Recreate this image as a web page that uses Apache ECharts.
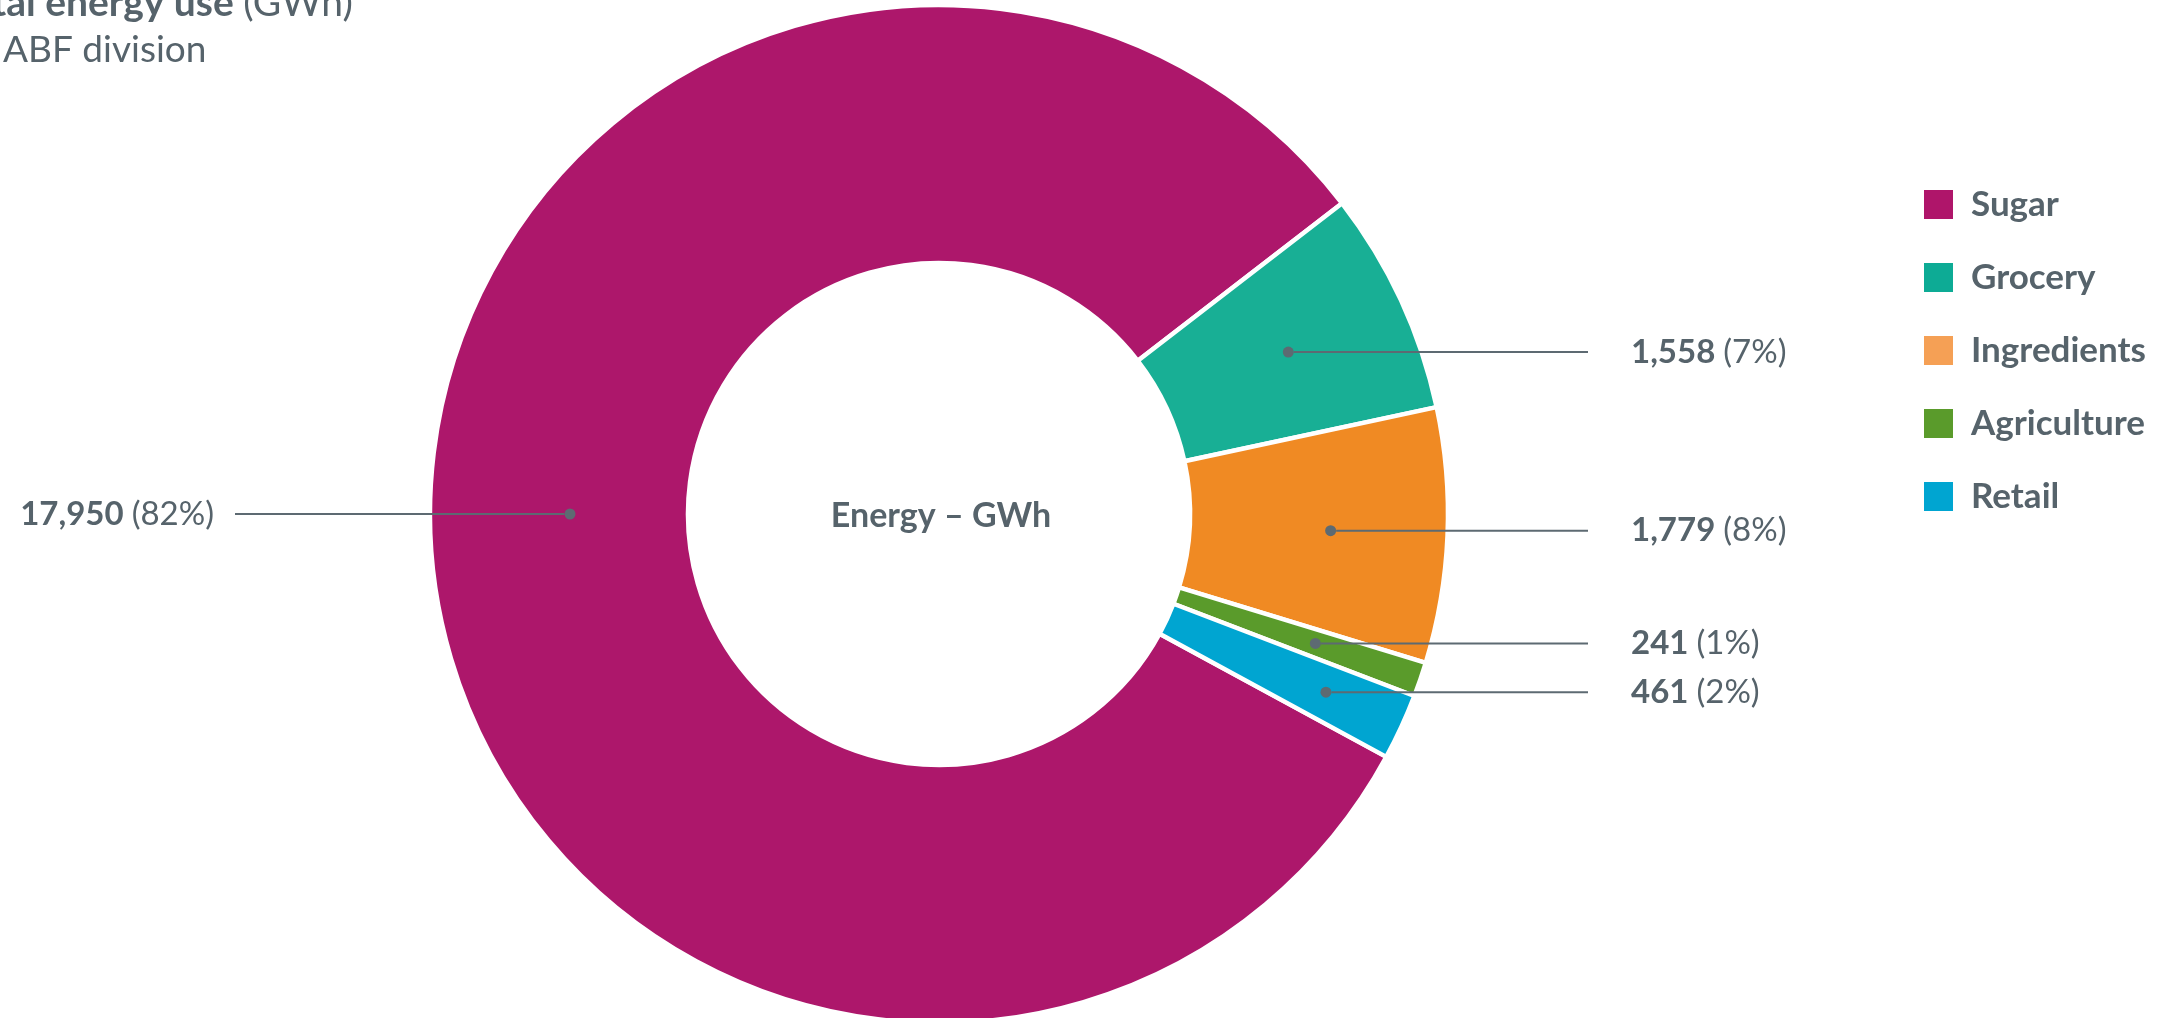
<!DOCTYPE html>
<html>
<head>
<meta charset="utf-8">
<script src="https://cdn.jsdelivr.net/npm/echarts@6/dist/echarts.min.js"></script>
<style>
  html, body { margin: 0; padding: 0; background: #ffffff; }
  #chart { width: 2164px; height: 1018px; }
</style>
</head>
<body>
<div id="chart"></div>
<script>
// Energy use by division (GWh)
const divisions = ['Sugar', 'Grocery', 'Ingredients', 'Agriculture', 'Retail'];
const energyGWh = [17950, 1558, 1779, 241, 461];

// Styling
const sliceColors = ['#AD176B', '#18AF95', '#F08A23', '#5A9B2B', '#00A5D1'];
const legendColors = ['#AF156A', '#0DAB95', '#F5A055', '#5A9B2B', '#00A5D1'];
const TEXT = '#56636B';
const LEADER = '#5D6A72';
const FONT = 'Lato';

// Ring geometry
const CX = 939, CY = 514, R_IN = 251, R_OUT = 509;
const START_ANGLE = -28.5;
// depth of each leader-line dot inside the ring (px from centre)
const leaderRadius = [369, 385, 392, 398, 426];
const RIGHT_LINE_END = 1588, RIGHT_TEXT_X = 1631;
const LEFT_LINE_END = 235, LEFT_TEXT_X = 214;

const total = energyGWh.reduce((a, b) => a + b, 0);
const cumulative = [];
(function () { let acc = 0; energyGWh.forEach(v => { cumulative.push(acc); acc += v; }); })();

function angleOf(v) { return START_ANGLE - 360 * v / total; }

// Position along the ring (in GWh) where a slice's leader line starts:
// the middle of the slice, or 9 o'clock for a slice that wraps round the left side.
function anchorValue(i) {
  const a = cumulative[i], b = a + energyGWh[i];
  const nine = (((START_ANGLE - 180) % 360) + 360) % 360 / 360 * total;
  if (energyGWh[i] / total > 0.5 && nine >= a && nine <= b) return nine;
  return (a + b) / 2;
}
function anchorPixel(i) {
  const t = angleOf(anchorValue(i)) * Math.PI / 180;
  return [CX + leaderRadius[i] * Math.cos(t), CY - leaderRadius[i] * Math.sin(t)];
}
function isLeft(i) { return anchorPixel(i)[0] < CX; }

const chart = echarts.init(document.getElementById('chart'), null, { renderer: 'canvas' });

const labelFont = { fontFamily: FONT, fontSize: 33, color: TEXT };

const option = {
  animation: false,
  backgroundColor: '#ffffff',
  title: {
    text: '{b|Total energy use }{n|(GWh)}',
    subtext: 'By ABF division',
    left: -49,
    top: -20,
    itemGap: 8,
    padding: 0,
    textStyle: {
      rich: {
        b: { fontFamily: FONT, fontWeight: 'bold', fontSize: 39, color: TEXT, lineHeight: 46 },
        n: { fontFamily: FONT, fontWeight: 'normal', fontSize: 39, color: TEXT, lineHeight: 46 }
      }
    },
    subtextStyle: { fontFamily: FONT, fontSize: 37, color: TEXT, lineHeight: 46 }
  },
  legend: {
    orient: 'vertical',
    left: 1917,
    top: 182,
    itemWidth: 31,
    itemHeight: 31,
    itemGap: 38,
    selectedMode: false,
    data: divisions.map((name, i) => ({ name, icon: 'rect', itemStyle: { color: legendColors[i] } })),
    textStyle: {
      fontFamily: FONT, fontWeight: 'bold', fontSize: 35, color: TEXT,
      lineHeight: 31, padding: [0, 0, 0, 12]
    }
  },
  polar: { center: [CX, CY], radius: R_OUT },
  angleAxis: {
    type: 'value', min: 0, max: total, startAngle: START_ANGLE, clockwise: true,
    show: false, axisLine: { show: false }, axisTick: { show: false },
    axisLabel: { show: false }, splitLine: { show: false }
  },
  radiusAxis: {
    type: 'value', min: 0, max: R_OUT, show: false,
    axisLine: { show: false }, axisTick: { show: false },
    axisLabel: { show: false }, splitLine: { show: false }
  },
  graphic: [{
    type: 'text', x: CX + 2, y: CY + 2, z: 10,
    style: {
      text: 'Energy – GWh', align: 'center', verticalAlign: 'middle',
      font: 'bold 34px ' + FONT, fill: TEXT
    }
  }],
  series: [
    {
      type: 'pie',
      center: [CX, CY],
      radius: [R_IN, R_OUT],
      startAngle: START_ANGLE,
      clockwise: true,
      silent: true,
      label: { show: false },
      labelLine: { show: false },
      itemStyle: { borderColor: '#ffffff', borderWidth: 4.5 },
      data: divisions.map((name, i) => ({ name, value: energyGWh[i], itemStyle: { color: sliceColors[i] } }))
    },
    {
      // leader dots with their value labels
      type: 'scatter',
      coordinateSystem: 'polar',
      silent: true,
      z: 5,
      symbol: 'circle',
      symbolSize: 11,
      itemStyle: { color: LEADER, opacity: 1 },
      data: divisions.map((name, i) => ({ name, value: [leaderRadius[i], anchorValue(i)] })),
      label: {
        show: true,
        formatter: p => {
          const i = p.dataIndex;
          const v = energyGWh[i];
          const text = '{v|' + v.toLocaleString('en-US') + ' }{p|(' + Math.round(100 * v / total) + '%)}';
          return isLeft(i) ? text + '{gl| }' : '{gr| }' + text;
        },
        rich: {
          v: Object.assign({ fontWeight: 'bold' }, labelFont),
          p: Object.assign({ fontWeight: 'normal' }, labelFont),
          gl: Object.assign({ width: LEFT_LINE_END - LEFT_TEXT_X }, labelFont),
          gr: Object.assign({ width: RIGHT_TEXT_X - RIGHT_LINE_END }, labelFont)
        }
      },
      labelLine: { show: true, showAbove: true, length2: 0, lineStyle: { color: LEADER, width: 2 } },
      labelLayout: function (params) {
        const i = params.dataIndex;
        const pt = anchorPixel(i);
        const left = isLeft(i);
        return {
          x: left ? LEFT_LINE_END : RIGHT_LINE_END,
          y: pt[1],
          align: left ? 'right' : 'left',
          verticalAlign: 'middle'
        };
      }
    }
  ]
};

chart.setOption(option);
</script>
</body>
</html>
